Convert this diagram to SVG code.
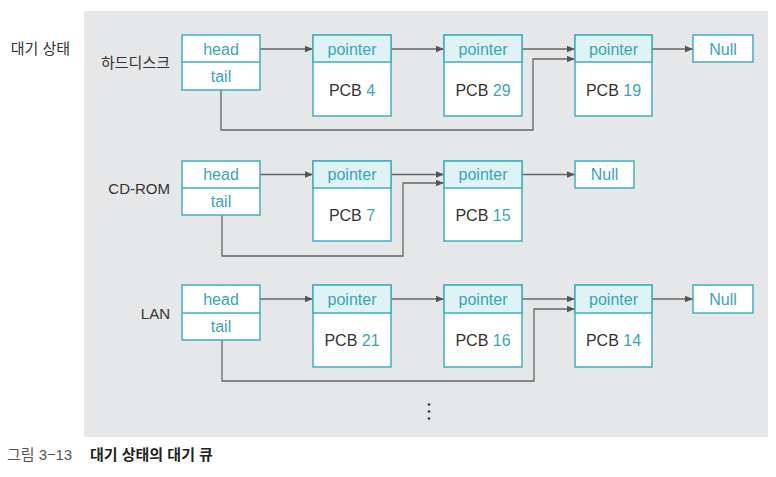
<svg xmlns="http://www.w3.org/2000/svg" width="776" height="477" viewBox="0 0 776 477">
<defs>
<style>
.bg{fill:#e6e7e8}
.box{fill:#fff;stroke:#3fb0bc;stroke-width:1.5}
.hdr{fill:#dff2f5;stroke:#3fb0bc;stroke-width:1.5}
.t{font-family:"Liberation Sans",Arial,sans-serif;font-size:16px;text-anchor:middle;dominant-baseline:central}
.teal{fill:#3aa6b3}
.dark{fill:#333}
.lbl{font-family:"Liberation Sans","Noto Sans CJK KR",sans-serif;font-size:15px;fill:#333;text-anchor:end;dominant-baseline:central}
.conn{fill:none;stroke:#666;stroke-width:1.3}
.cap{font-family:"Liberation Sans","Noto Sans CJK KR",sans-serif;font-size:15px}
</style>
<marker id="ah" viewBox="0 0 10 10" refX="10" refY="5" markerWidth="8" markerHeight="8" markerUnits="userSpaceOnUse" orient="auto">
<path d="M0,1 L10,5 L0,9 Z" fill="#555"/>
</marker>
</defs>
<rect class="bg" x="84" y="11" width="684" height="426"/>
<text class="lbl" x="70" y="48" style="text-anchor:end">대기 상태</text>

<g id="connectors">
<path class="conn" marker-end="url(#ah)" d="M260,49 H313"/>
<path class="conn" marker-end="url(#ah)" d="M391,49 H444"/>
<path class="conn" marker-end="url(#ah)" d="M522,49 H575"/>
<path class="conn" marker-end="url(#ah)" d="M221,90 V130 H533 V59 H575"/>
<path class="conn" marker-end="url(#ah)" d="M652,49 H693"/>

<path class="conn" marker-end="url(#ah)" d="M260,174.5 H313"/>
<path class="conn" marker-end="url(#ah)" d="M391,174.5 H444"/>
<path class="conn" marker-end="url(#ah)" d="M222,215 V256 H403 V183 H444"/>
<path class="conn" marker-end="url(#ah)" d="M522,174.5 H575"/>

<path class="conn" marker-end="url(#ah)" d="M260,299 H313"/>
<path class="conn" marker-end="url(#ah)" d="M391,299 H444"/>
<path class="conn" marker-end="url(#ah)" d="M522,299 H575"/>
<path class="conn" marker-end="url(#ah)" d="M222,340 V381 H534 V309 H575"/>
<path class="conn" marker-end="url(#ah)" d="M652,299 H693"/>
</g>

<!-- Row 1 -->
<g id="label-hdd"><text class="lbl" x="170" y="62">하드디스크</text></g>
<g id="hdd-queue">
<rect class="box" x="182" y="35" width="78" height="55"/>
<line class="box" x1="182" y1="62" x2="260" y2="62"/>
<text class="t teal" x="221" y="49">head</text>
<text class="t teal" x="221" y="76">tail</text>
</g>
<g id="pcb4">
<rect class="box" x="313" y="35" width="78" height="81"/>
<rect class="hdr" x="313" y="35" width="78" height="27"/>
<text class="t teal" x="352" y="49">pointer</text>
<text class="t dark" x="352" y="90">PCB <tspan class="teal">4</tspan></text>
</g>
<g id="pcb29">
<rect class="box" x="444" y="35" width="78" height="81"/>
<rect class="hdr" x="444" y="35" width="78" height="27"/>
<text class="t teal" x="483" y="49">pointer</text>
<text class="t dark" x="483" y="90">PCB <tspan class="teal">29</tspan></text>
</g>
<g id="pcb19">
<rect class="box" x="575" y="35" width="77" height="81"/>
<rect class="hdr" x="575" y="35" width="77" height="27"/>
<text class="t teal" x="613.5" y="49">pointer</text>
<text class="t dark" x="613.5" y="90">PCB <tspan class="teal">19</tspan></text>
</g>
<g id="null1">
<rect class="box" x="693" y="35" width="60" height="27"/>
<text class="t teal" x="723" y="49">Null</text>
</g>

<!-- Row 2 -->
<g id="label-cdrom"><text class="lbl" x="170" y="188">CD-ROM</text></g>
<g id="cdrom-queue">
<rect class="box" x="182" y="161" width="78" height="54"/>
<line class="box" x1="182" y1="188" x2="260" y2="188"/>
<text class="t teal" x="221" y="174.5">head</text>
<text class="t teal" x="221" y="201">tail</text>
</g>
<g id="pcb7">
<rect class="box" x="313" y="161" width="78" height="80"/>
<rect class="hdr" x="313" y="161" width="78" height="27"/>
<text class="t teal" x="352" y="174.5">pointer</text>
<text class="t dark" x="352" y="215">PCB <tspan class="teal">7</tspan></text>
</g>
<g id="pcb15">
<rect class="box" x="444" y="161" width="78" height="80"/>
<rect class="hdr" x="444" y="161" width="78" height="27"/>
<text class="t teal" x="483" y="174.5">pointer</text>
<text class="t dark" x="483" y="215">PCB <tspan class="teal">15</tspan></text>
</g>
<g id="null2">
<rect class="box" x="575" y="161" width="59" height="27"/>
<text class="t teal" x="604.5" y="174.5">Null</text>
</g>

<!-- Row 3 -->
<g id="label-lan"><text class="lbl" x="170" y="313">LAN</text></g>
<g id="lan-queue">
<rect class="box" x="182" y="285" width="78" height="55"/>
<line class="box" x1="182" y1="313" x2="260" y2="313"/>
<text class="t teal" x="221" y="299">head</text>
<text class="t teal" x="221" y="326">tail</text>
</g>
<g id="pcb21">
<rect class="box" x="313" y="285" width="78" height="82"/>
<rect class="hdr" x="313" y="285" width="78" height="28"/>
<text class="t teal" x="352" y="299">pointer</text>
<text class="t dark" x="352" y="340">PCB <tspan class="teal">21</tspan></text>
</g>
<g id="pcb16">
<rect class="box" x="444" y="285" width="78" height="82"/>
<rect class="hdr" x="444" y="285" width="78" height="28"/>
<text class="t teal" x="483" y="299">pointer</text>
<text class="t dark" x="483" y="340">PCB <tspan class="teal">16</tspan></text>
</g>
<g id="pcb14">
<rect class="box" x="575" y="285" width="77" height="82"/>
<rect class="hdr" x="575" y="285" width="77" height="28"/>
<text class="t teal" x="613.5" y="299">pointer</text>
<text class="t dark" x="613.5" y="340">PCB <tspan class="teal">14</tspan></text>
</g>
<g id="null3">
<rect class="box" x="693" y="285" width="60" height="28"/>
<text class="t teal" x="723" y="299">Null</text>
</g>

<g id="ellipsis" fill="#333">
<circle cx="429" cy="404.5" r="1.3"/>
<circle cx="429" cy="411.5" r="1.3"/>
<circle cx="429" cy="418.5" r="1.3"/>
</g>

<text class="cap" x="7" y="460"><tspan fill="#555">그림 3</tspan><tspan fill="#555" font-family="'Noto Sans CJK KR',sans-serif">−</tspan><tspan fill="#555">13</tspan><tspan x="90" fill="#222" font-weight="bold">대기 상태의 대기 큐</tspan></text>
</svg>
